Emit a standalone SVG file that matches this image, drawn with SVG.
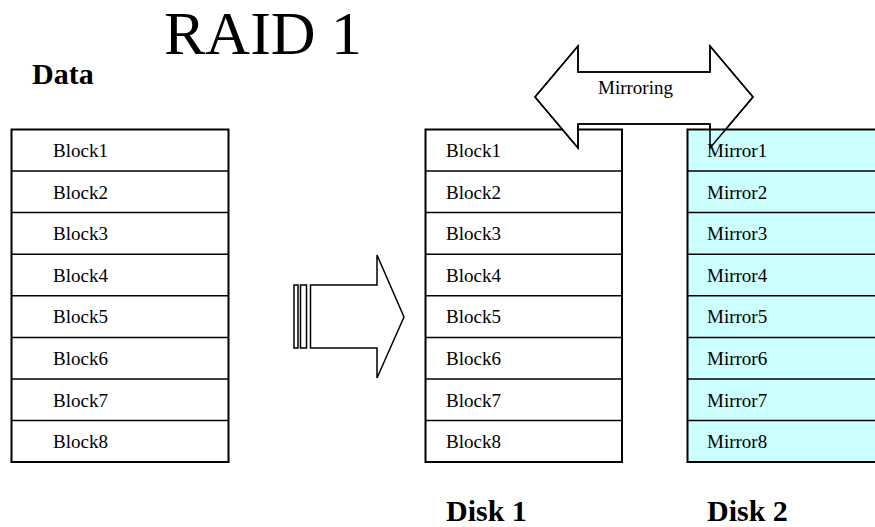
<svg xmlns="http://www.w3.org/2000/svg" width="875" height="527" viewBox="0 0 875 527">
<rect width="875" height="527" fill="#fff"/>
<g font-family="Times New Roman">
<text font-size="62" x="164" y="54">RAID 1</text>
<text font-size="30" font-weight="bold" x="32" y="84">Data</text>

<g id="data">
<rect x="11.5" y="129.5" width="217" height="332.5" fill="#fff" stroke="#000" stroke-width="2"/>
<g stroke="#000" stroke-width="1.5">
<line x1="11.5" y1="171" x2="228.5" y2="171"/><line x1="11.5" y1="212.6" x2="228.5" y2="212.6"/>
<line x1="11.5" y1="254.2" x2="228.5" y2="254.2"/><line x1="11.5" y1="295.8" x2="228.5" y2="295.8"/>
<line x1="11.5" y1="337.4" x2="228.5" y2="337.4"/><line x1="11.5" y1="379" x2="228.5" y2="379"/>
<line x1="11.5" y1="420.6" x2="228.5" y2="420.6"/>
</g>
<g font-size="19">
<text x="53" y="157">Block1</text><text x="53" y="198.6">Block2</text><text x="53" y="240.2">Block3</text><text x="53" y="281.8">Block4</text>
<text x="53" y="323.4">Block5</text><text x="53" y="365">Block6</text><text x="53" y="406.6">Block7</text><text x="53" y="448.2">Block8</text>
</g>
</g>

<g id="disk1">
<rect x="425.5" y="129.5" width="196.5" height="332.5" fill="#fff" stroke="#000" stroke-width="2"/>
<g stroke="#000" stroke-width="1.5">
<line x1="425.5" y1="171" x2="622" y2="171"/><line x1="425.5" y1="212.6" x2="622" y2="212.6"/>
<line x1="425.5" y1="254.2" x2="622" y2="254.2"/><line x1="425.5" y1="295.8" x2="622" y2="295.8"/>
<line x1="425.5" y1="337.4" x2="622" y2="337.4"/><line x1="425.5" y1="379" x2="622" y2="379"/>
<line x1="425.5" y1="420.6" x2="622" y2="420.6"/>
</g>
<g font-size="19">
<text x="446" y="157">Block1</text><text x="446" y="198.6">Block2</text><text x="446" y="240.2">Block3</text><text x="446" y="281.8">Block4</text>
<text x="446" y="323.4">Block5</text><text x="446" y="365">Block6</text><text x="446" y="406.6">Block7</text><text x="446" y="448.2">Block8</text>
</g>
<text font-size="30" font-weight="bold" x="446" y="521">Disk 1</text>
</g>

<g id="mirroring-fill">
<polygon points="535,97 578,46 578,72 710,72 710,46 753,97 710,148 710,124 578,124 578,148" fill="#fff" stroke="#000" stroke-width="1.5"/>
</g>

<g id="disk2">
<rect x="687.5" y="129.5" width="200" height="332.5" fill="#ccffff" stroke="#000" stroke-width="2"/>
<g stroke="#000" stroke-width="1.5">
<line x1="687.5" y1="171" x2="875" y2="171"/><line x1="687.5" y1="212.6" x2="875" y2="212.6"/>
<line x1="687.5" y1="254.2" x2="875" y2="254.2"/><line x1="687.5" y1="295.8" x2="875" y2="295.8"/>
<line x1="687.5" y1="337.4" x2="875" y2="337.4"/><line x1="687.5" y1="379" x2="875" y2="379"/>
<line x1="687.5" y1="420.6" x2="875" y2="420.6"/>
</g>
<g font-size="19">
<text x="707" y="157">Mirror1</text><text x="707" y="198.6">Mirror2</text><text x="707" y="240.2">Mirror3</text><text x="707" y="281.8">Mirror4</text>
<text x="707" y="323.4">Mirror5</text><text x="707" y="365">Mirror6</text><text x="707" y="406.6">Mirror7</text><text x="707" y="448.2">Mirror8</text>
</g>
<text font-size="30" font-weight="bold" x="707" y="521">Disk 2</text>
</g>

<g id="connectors">
<g id="mirroring">
<polygon points="535,97 578,46 578,72 710,72 710,46 753,97 710,148 710,124 578,124 578,148" fill="none" stroke="#000" stroke-width="1.5"/>
<text font-size="19" x="598" y="94">Mirroring</text>
</g>
<g id="copy-arrow" fill="#fff" stroke="#000" stroke-width="1.5">
<rect x="294" y="285" width="4" height="63"/>
<rect x="300.5" y="285" width="6" height="63"/>
<polygon points="310.5,285 377,285 377,255 404,317 377,378 377,348 310.5,348"/>
</g>
</g>
</g>
</svg>
